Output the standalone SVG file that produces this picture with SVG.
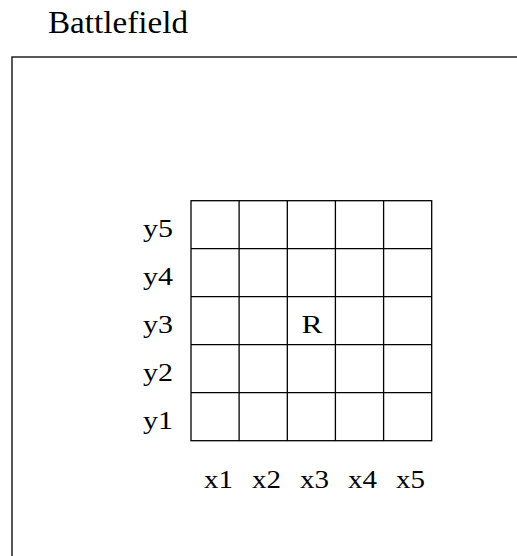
<svg xmlns="http://www.w3.org/2000/svg" width="517" height="556" viewBox="0 0 517 556">
<style>
text{font-family:"Liberation Serif","DejaVu Serif",serif;fill:#000}
.t{font-size:32px}
.l{font-size:26px}
.g{fill:none;stroke:#000;stroke-width:1.3}
</style>
<rect width="517" height="556" fill="#fff"/>
<g id="battlefield">
<text class="t" x="48" y="32.5" textLength="140" lengthAdjust="spacingAndGlyphs">Battlefield</text>
<rect class="g" x="12" y="57" width="520" height="520"/>
</g>
<g id="grid">
<rect class="g" x="191" y="200.7" width="240.7" height="240"/>
<path class="g" d="M239.1 200.7V440.7M287.3 200.7V440.7M335.4 200.7V440.7M383.6 200.7V440.7M191 248.7H431.7M191 296.7H431.7M191 344.7H431.7M191 392.7H431.7"/>
</g>
<g id="robot"><text class="l" x="301.5" y="333" textLength="21" lengthAdjust="spacingAndGlyphs">R</text></g>
<g id="ylabels">
<text class="l" x="143" y="237" textLength="30" lengthAdjust="spacingAndGlyphs">y5</text>
<text class="l" x="143" y="285" textLength="30" lengthAdjust="spacingAndGlyphs">y4</text>
<text class="l" x="143" y="333" textLength="30" lengthAdjust="spacingAndGlyphs">y3</text>
<text class="l" x="143" y="381" textLength="30" lengthAdjust="spacingAndGlyphs">y2</text>
<text class="l" x="143" y="429" textLength="30" lengthAdjust="spacingAndGlyphs">y1</text>
</g>
<g id="xlabels">
<text class="l" x="204" y="487.5" textLength="29" lengthAdjust="spacingAndGlyphs">x1</text>
<text class="l" x="252" y="487.5" textLength="29" lengthAdjust="spacingAndGlyphs">x2</text>
<text class="l" x="300" y="487.5" textLength="29" lengthAdjust="spacingAndGlyphs">x3</text>
<text class="l" x="348" y="487.5" textLength="29" lengthAdjust="spacingAndGlyphs">x4</text>
<text class="l" x="396" y="487.5" textLength="29" lengthAdjust="spacingAndGlyphs">x5</text>
</g>
</svg>
